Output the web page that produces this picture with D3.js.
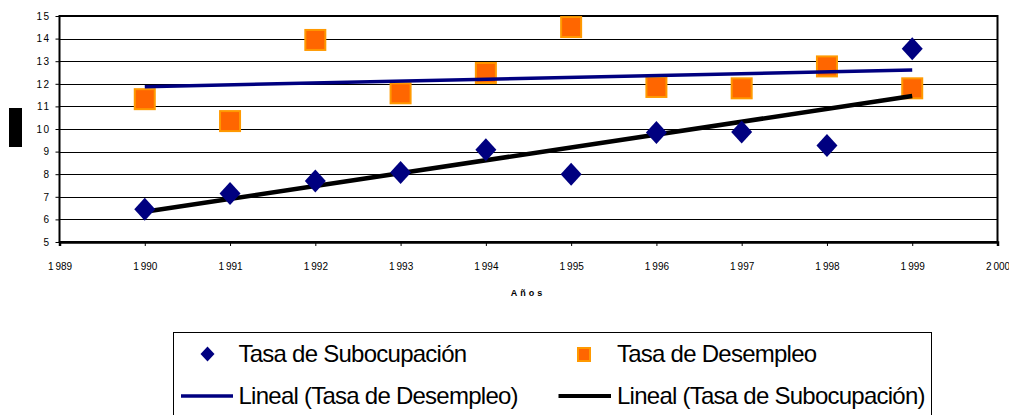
<!DOCTYPE html>
<html><head><meta charset="utf-8">
<script src="https://cdn.jsdelivr.net/npm/d3@7"></script>
<style>body{margin:0;background:#fff}svg{display:block;font-family:"Liberation Sans",Arial,sans-serif}</style>
</head><body>
<script>
const years = [1990,1991,1992,1993,1994,1995,1996,1997,1998,1999];
const subocupacion = [6.45,7.15,7.7,8.08,9.08,8.0,9.85,9.87,9.27,13.55];
const desempleo = [11.32,10.35,13.94,11.58,12.48,14.51,11.86,11.8,12.77,11.8];
const xTicks = [1989,1990,1991,1992,1993,1994,1995,1996,1997,1998,1999,2000];
const yTicks = [5,6,7,8,9,10,11,12,13,14,15];
const seriesNames = ["Tasa de Subocupación","Tasa de Desempleo","Lineal (Tasa de Desempleo)","Lineal (Tasa de Subocupación)"];
const xTitle = "Años";

const FONT='"Liberation Sans",Arial,sans-serif';
const W=1009,H=415;
const svg=d3.select("body").append("svg").attr("width",W).attr("height",H);
const x=d3.scaleLinear().domain([1989,2000]).range([59.5,997.5]);
const y=d3.scaleLinear().domain([5,15]).range([242,16]);

// grid
svg.append("g").selectAll("line").data(yTicks.filter(v=>v>5&&v<15)).join("line")
 .attr("x1",x(1989)).attr("x2",x(2000)).attr("y1",d=>Math.round(y(d))+0.5).attr("y2",d=>Math.round(y(d))+0.5)
 .attr("stroke","#000").attr("stroke-width",1);

// plot border
svg.append("rect").attr("x",x(1989)).attr("y",y(15)).attr("width",x(2000)-x(1989)).attr("height",y(5)-y(15))
 .attr("fill","none").attr("stroke","#000").attr("stroke-width",2);

// y axis
const yAx=svg.append("g").attr("transform",`translate(${x(1989)},0)`)
 .call(d3.axisLeft(y).tickValues(yTicks).tickSize(4).tickPadding(5).tickFormat(d3.format("d")));
yAx.select(".domain").remove();
yAx.selectAll("line").attr("stroke","#000");
yAx.selectAll("text").attr("font-size","10px").attr("fill","#000").attr("font-family",FONT).style("letter-spacing","1.5px");

// x axis
const fmtYear=d=>{const s=String(d);return s[0]+"\u2009"+s.slice(1);};
const xAx=svg.append("g").attr("transform",`translate(0,${y(5)})`)
 .call(d3.axisBottom(x).tickValues(xTicks).tickSize(4).tickPadding(17).tickFormat(fmtYear));
xAx.select(".domain").attr("stroke","#000").attr("stroke-width",2.5);
xAx.selectAll("line").attr("stroke","#000");
xAx.selectAll("text").attr("font-size","10px").attr("fill","#000").attr("font-family",FONT);

// x title
svg.append("text").attr("x",528).attr("y",296).attr("text-anchor","middle").attr("font-family",FONT)
 .attr("font-size","9px").attr("font-weight","bold").style("letter-spacing","3px").text(xTitle);

// redacted y-title block
svg.append("rect").attr("x",9).attr("y",108).attr("width",13).attr("height",39).attr("fill","#000");

// regression
function fit(xs,ys){const mx=d3.mean(xs),my=d3.mean(ys);
 const b=d3.sum(xs,(v,i)=>(v-mx)*(ys[i]-my))/d3.sum(xs,v=>(v-mx)*(v-mx));return v=>my+b*(v-mx);}
const fD=fit(years,desempleo), fS=fit(years,subocupacion);
const ends=[years[0],years[years.length-1]];
const line=f=>d3.line().x(d=>x(d)).y(d=>y(f(d)));

// squares
svg.append("g").selectAll("rect").data(years).join("rect")
 .attr("x",(d,i)=>x(d)-10).attr("y",(d,i)=>y(desempleo[i])-10).attr("width",20).attr("height",20)
 .attr("fill","#FF6600").attr("stroke","#FF9900").attr("stroke-width",2);

// trend lines
svg.append("path").datum(ends).attr("d",line(fD)).attr("stroke","#000080").attr("stroke-width",3.5).attr("fill","none");
svg.append("path").datum(ends).attr("d",line(fS)).attr("stroke","#000").attr("stroke-width",4.5).attr("fill","none");

// diamonds
const diamond=(cx,cy,rx,ry)=>`M${cx},${cy-ry}L${cx+rx},${cy}L${cx},${cy+ry}L${cx-rx},${cy}Z`;
svg.append("g").selectAll("path").data(years).join("path")
 .attr("d",(d,i)=>diamond(x(d),y(subocupacion[i]),10.5,11.5)).attr("fill","#000080");

// legend
const lg=svg.append("g").attr("font-family",FONT);
lg.append("rect").attr("x",173.5).attr("y",332.5).attr("width",758).attr("height",100).attr("fill","#fff").attr("stroke","#000").attr("stroke-width",1);
const fs="24px", ls="-0.75px";
lg.append("path").attr("d",diamond(207.5,354,7,7.5)).attr("fill","#000080");
lg.append("text").attr("x",238.5).attr("y",362).attr("font-size",fs).style("letter-spacing",ls).text(seriesNames[0]);
lg.append("rect").attr("x",578).attr("y",348).attr("width",12).attr("height",13).attr("fill","#FF6600").attr("stroke","#FF9900").attr("stroke-width",2);
lg.append("text").attr("x",617).attr("y",362).attr("font-size",fs).style("letter-spacing",ls).text(seriesNames[1]);
lg.append("line").attr("x1",181).attr("x2",233).attr("y1",396).attr("y2",396).attr("stroke","#000080").attr("stroke-width",3.5);
lg.append("text").attr("x",238.5).attr("y",403.5).attr("font-size",fs).style("letter-spacing",ls).text(seriesNames[2]);
lg.append("line").attr("x1",558.5).attr("x2",611).attr("y1",396).attr("y2",396).attr("stroke","#000").attr("stroke-width",4);
lg.append("text").attr("x",617).attr("y",403.5).attr("font-size",fs).style("letter-spacing",ls).text(seriesNames[3]);
</script>
</body></html>
